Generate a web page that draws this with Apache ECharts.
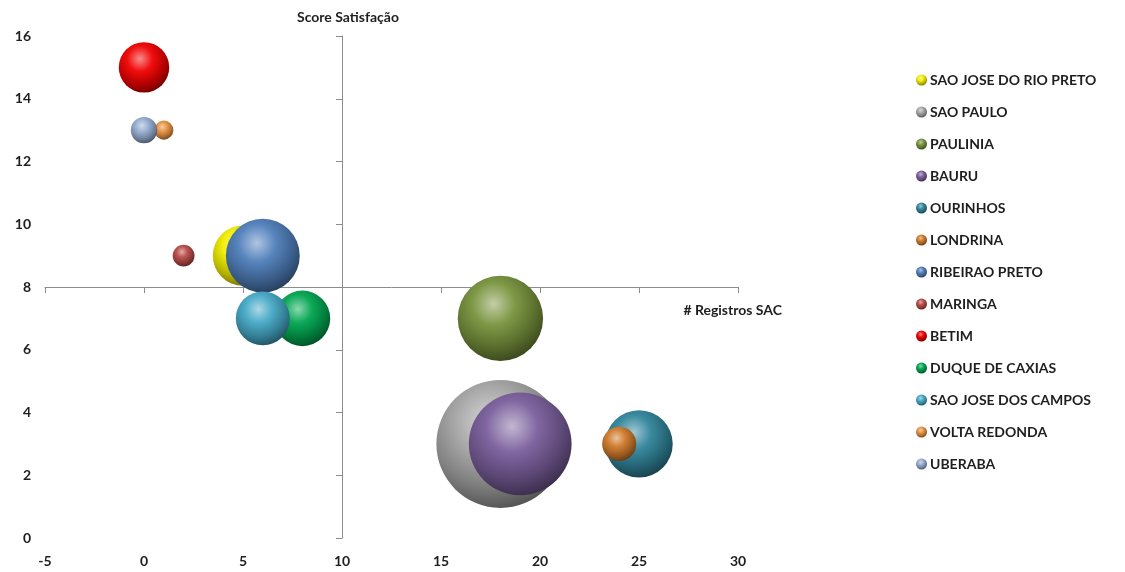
<!DOCTYPE html>
<html>
<head>
<meta charset="utf-8">
<script src="https://cdn.jsdelivr.net/npm/echarts@6/dist/echarts.min.js"></script>
<style>
html,body{margin:0;padding:0;background:#fff;}
#chart{width:1125px;height:572px;}
</style>
</head>
<body>
<div id="chart"></div>
<script>
const cities = ['SAO JOSE DO RIO PRETO','SAO PAULO','PAULINIA','BAURU','OURINHOS','LONDRINA','RIBEIRAO PRETO','MARINGA','BETIM','DUQUE DE CAXIAS','SAO JOSE DOS CAMPOS','VOLTA REDONDA','UBERABA'];
const registros = [5, 18, 18, 19, 25, 24, 6, 2, 0, 8, 6, 1, 0];
const scores = [9, 3, 7, 3, 3, 3, 9, 9, 15, 7, 7, 13, 13];
const sizes = [10, 45, 20, 29, 12.5, 3.2, 15, 1.3, 7, 8.5, 8, 1, 1.9];
const colors = ['#f2ee00','#a8a8a8','#77933c','#7a5e9c','#31859c','#d07a2a','#4f7fbb','#b84a47','#f00000','#00a650','#45a9c6','#e8913f','#95acd0'];
const xTicks = {min:-5, max:30, interval:5};
const yTicks = {min:0, max:16, interval:2};
const crossX = 10, crossY = 8;

function shade(hex, f){
  const n = parseInt(hex.slice(1),16);
  let r=(n>>16)&255,g=(n>>8)&255,b=n&255;
  if(f>=0){ r=r+(255-r)*f; g=g+(255-g)*f; b=b+(255-b)*f; }
  else { r=r*(1+f); g=g*(1+f); b=b*(1+f); }
  return 'rgb('+Math.round(r)+','+Math.round(g)+','+Math.round(b)+')';
}
function ball(c){
  return new echarts.graphic.RadialGradient(0.42,0.33,0.72,[
    {offset:0,color:shade(c,0.55)},
    {offset:0.35,color:shade(c,0.05)},
    {offset:0.7,color:shade(c,-0.25)},
    {offset:1,color:shade(c,-0.55)}
  ]);
}
const maxSize = Math.max(...sizes);
const font = 'Lato';
const series = cities.map((name,i)=>({
  name: name,
  type: 'scatter',
  xAxisIndex: 0, yAxisIndex: 0,
  symbolSize: d => 128*Math.sqrt(d[2]/maxSize),
  itemStyle: {color: ball(colors[i]), opacity: 1},
  data: [[registros[i], scores[i], sizes[i]]],
  z: 2 + i
}));

const chart = echarts.init(document.getElementById('chart'));
chart.setOption({
  animation: false,
  backgroundColor: '#fff',
  textStyle: {fontFamily: font},
  grid: {left:45, right:387, top:36, bottom:34, containLabel:false},
  legend: {
    orient:'vertical', left:911, top:68, itemGap:18,
    icon:'circle', itemWidth:11, itemHeight:11,
    textStyle:{fontFamily:font, fontWeight:'bold', fontSize:14, color:'#1e1e1e', padding:[0,0,0,-2]},
    data: cities
  },
  xAxis: [
    {type:'value', min:xTicks.min, max:xTicks.max, interval:xTicks.interval,
     axisLine:{show:false}, axisTick:{show:false}, splitLine:{show:false},
     axisLabel:{fontFamily:font, fontWeight:'bold', fontSize:14, color:'#1e1e1e', margin:16}},
    {type:'value', position:'bottom', min:xTicks.min-crossX, max:xTicks.max-crossX, interval:xTicks.interval,
     axisLine:{show:true, onZero:true, onZeroAxisIndex:1, lineStyle:{color:'#8c8c8c', width:1}},
     axisTick:{show:true, length:6, lineStyle:{color:'#8c8c8c'}},
     axisLabel:{show:false}, splitLine:{show:false},
     name:'# Registros SAC', nameLocation:'end', nameGap:44,
     nameTextStyle:{fontFamily:font, fontWeight:'bold', fontSize:14, color:'#1e1e1e', align:'right', verticalAlign:'top', padding:[16,0,0,0]}}
  ],
  yAxis: [
    {type:'value', min:yTicks.min, max:yTicks.max, interval:yTicks.interval,
     axisLine:{show:false}, axisTick:{show:false}, splitLine:{show:false},
     axisLabel:{fontFamily:font, fontWeight:'bold', fontSize:14, color:'#1e1e1e', margin:14}},
    {type:'value', position:'left', min:yTicks.min-crossY, max:yTicks.max-crossY, interval:yTicks.interval,
     axisLine:{show:true, onZero:true, onZeroAxisIndex:1, lineStyle:{color:'#8c8c8c', width:1}},
     axisTick:{show:true, length:6, lineStyle:{color:'#8c8c8c'}},
     axisLabel:{show:false}, splitLine:{show:false},
     name:'Score Satisfação', nameLocation:'end', nameGap:12,
     nameTextStyle:{fontFamily:font, fontWeight:'bold', fontSize:14, color:'#1e1e1e', padding:[0,0,0,12]}}
  ],
  series: series
});
</script>
</body>
</html>
